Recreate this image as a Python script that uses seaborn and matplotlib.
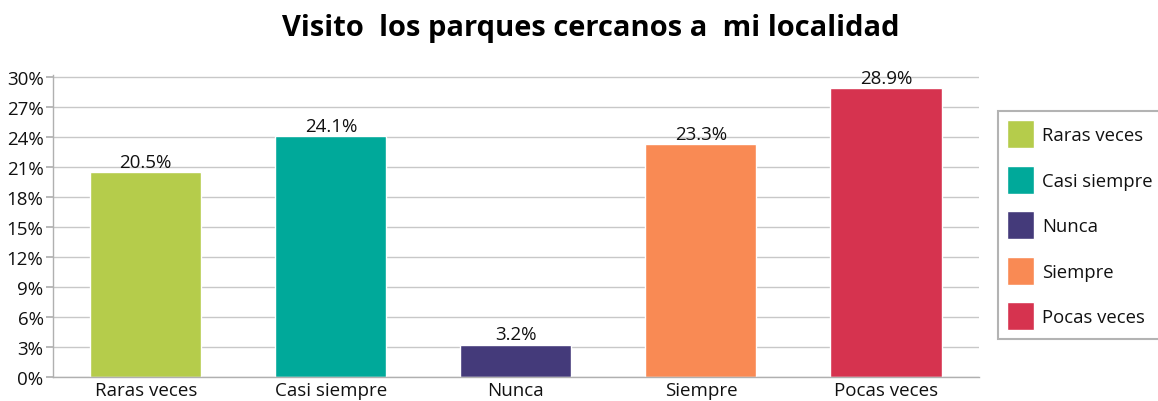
import matplotlib
matplotlib.use("Agg")
import matplotlib.pyplot as plt
import seaborn as sns
import pandas as pd
from matplotlib.ticker import FuncFormatter

# data
categories = ['Raras veces', 'Casi siempre', 'Nunca', 'Siempre', 'Pocas veces']
values = [20.5, 24.1, 3.2, 23.3, 28.9]
colors = ['#B5CC4B', '#00A99A', '#443A7A', '#F98A54', '#D6334F']
yticks = [0, 3, 6, 9, 12, 15, 18, 21, 24, 27, 30]

df = pd.DataFrame({'cat': categories, 'val': values})

sns.set_theme(style="white")
plt.rcParams['font.family'] = ['Open Sans', 'DejaVu Sans']
plt.rcParams['text.color'] = '#111111'
plt.rcParams['xtick.color'] = '#111111'
plt.rcParams['ytick.color'] = '#111111'

fig = plt.figure(figsize=(11.58, 4.02), dpi=100)
ax = fig.add_axes([0.046, 0.06, 0.799, 0.75])

sns.barplot(data=df, x='cat', y='val', hue='cat', palette=colors,
            dodge=False, width=0.6, saturation=1, legend=True, ax=ax)

ax.set_xlim(-0.5, 4.5)
ax.set_ylim(0, 30.2)
ax.set_yticks(yticks)
ax.yaxis.set_major_formatter(FuncFormatter(lambda v, p: f"{int(v)}%"))
ax.yaxis.grid(True, color='#C8C8C8', linewidth=1)
ax.set_axisbelow(True)
ax.tick_params(axis='y', length=5, color='#B0B0B0', labelcolor='#111111',
               labelsize=13.5, pad=2, left=True)
ax.tick_params(axis='x', length=0, labelsize=13.5, labelcolor='#111111', pad=3)
for s in ['top', 'right']:
    ax.spines[s].set_visible(False)
for s in ['left', 'bottom']:
    ax.spines[s].set_color('#B0B0B0')
    ax.spines[s].set_linewidth(1)
ax.set_xlabel('')
ax.set_ylabel('')

for i, v in enumerate(values):
    ax.text(i, v + 0.15, f"{v}%", ha='center', va='bottom', fontsize=13.5, color='#111111')

fig.suptitle('Visito  los parques cercanos a  mi localidad', x=0.51, y=0.965,
             fontsize=21, fontweight='bold', color='black')

leg = ax.legend(loc='upper left', bbox_to_anchor=(998 / 1158, (402 - 112) / 402),
                bbox_transform=fig.transFigure, frameon=True, fancybox=False,
                fontsize=13.3, handlelength=1.45, handleheight=1.95,
                labelspacing=0.95, borderpad=0.5, handletextpad=0.45, borderaxespad=0)
leg.get_frame().set_edgecolor('#A0A0A0')
leg.get_frame().set_linewidth(1.5)
for t in leg.get_texts():
    t.set_color('#111111')

fig.savefig('out.png', dpi=100)
